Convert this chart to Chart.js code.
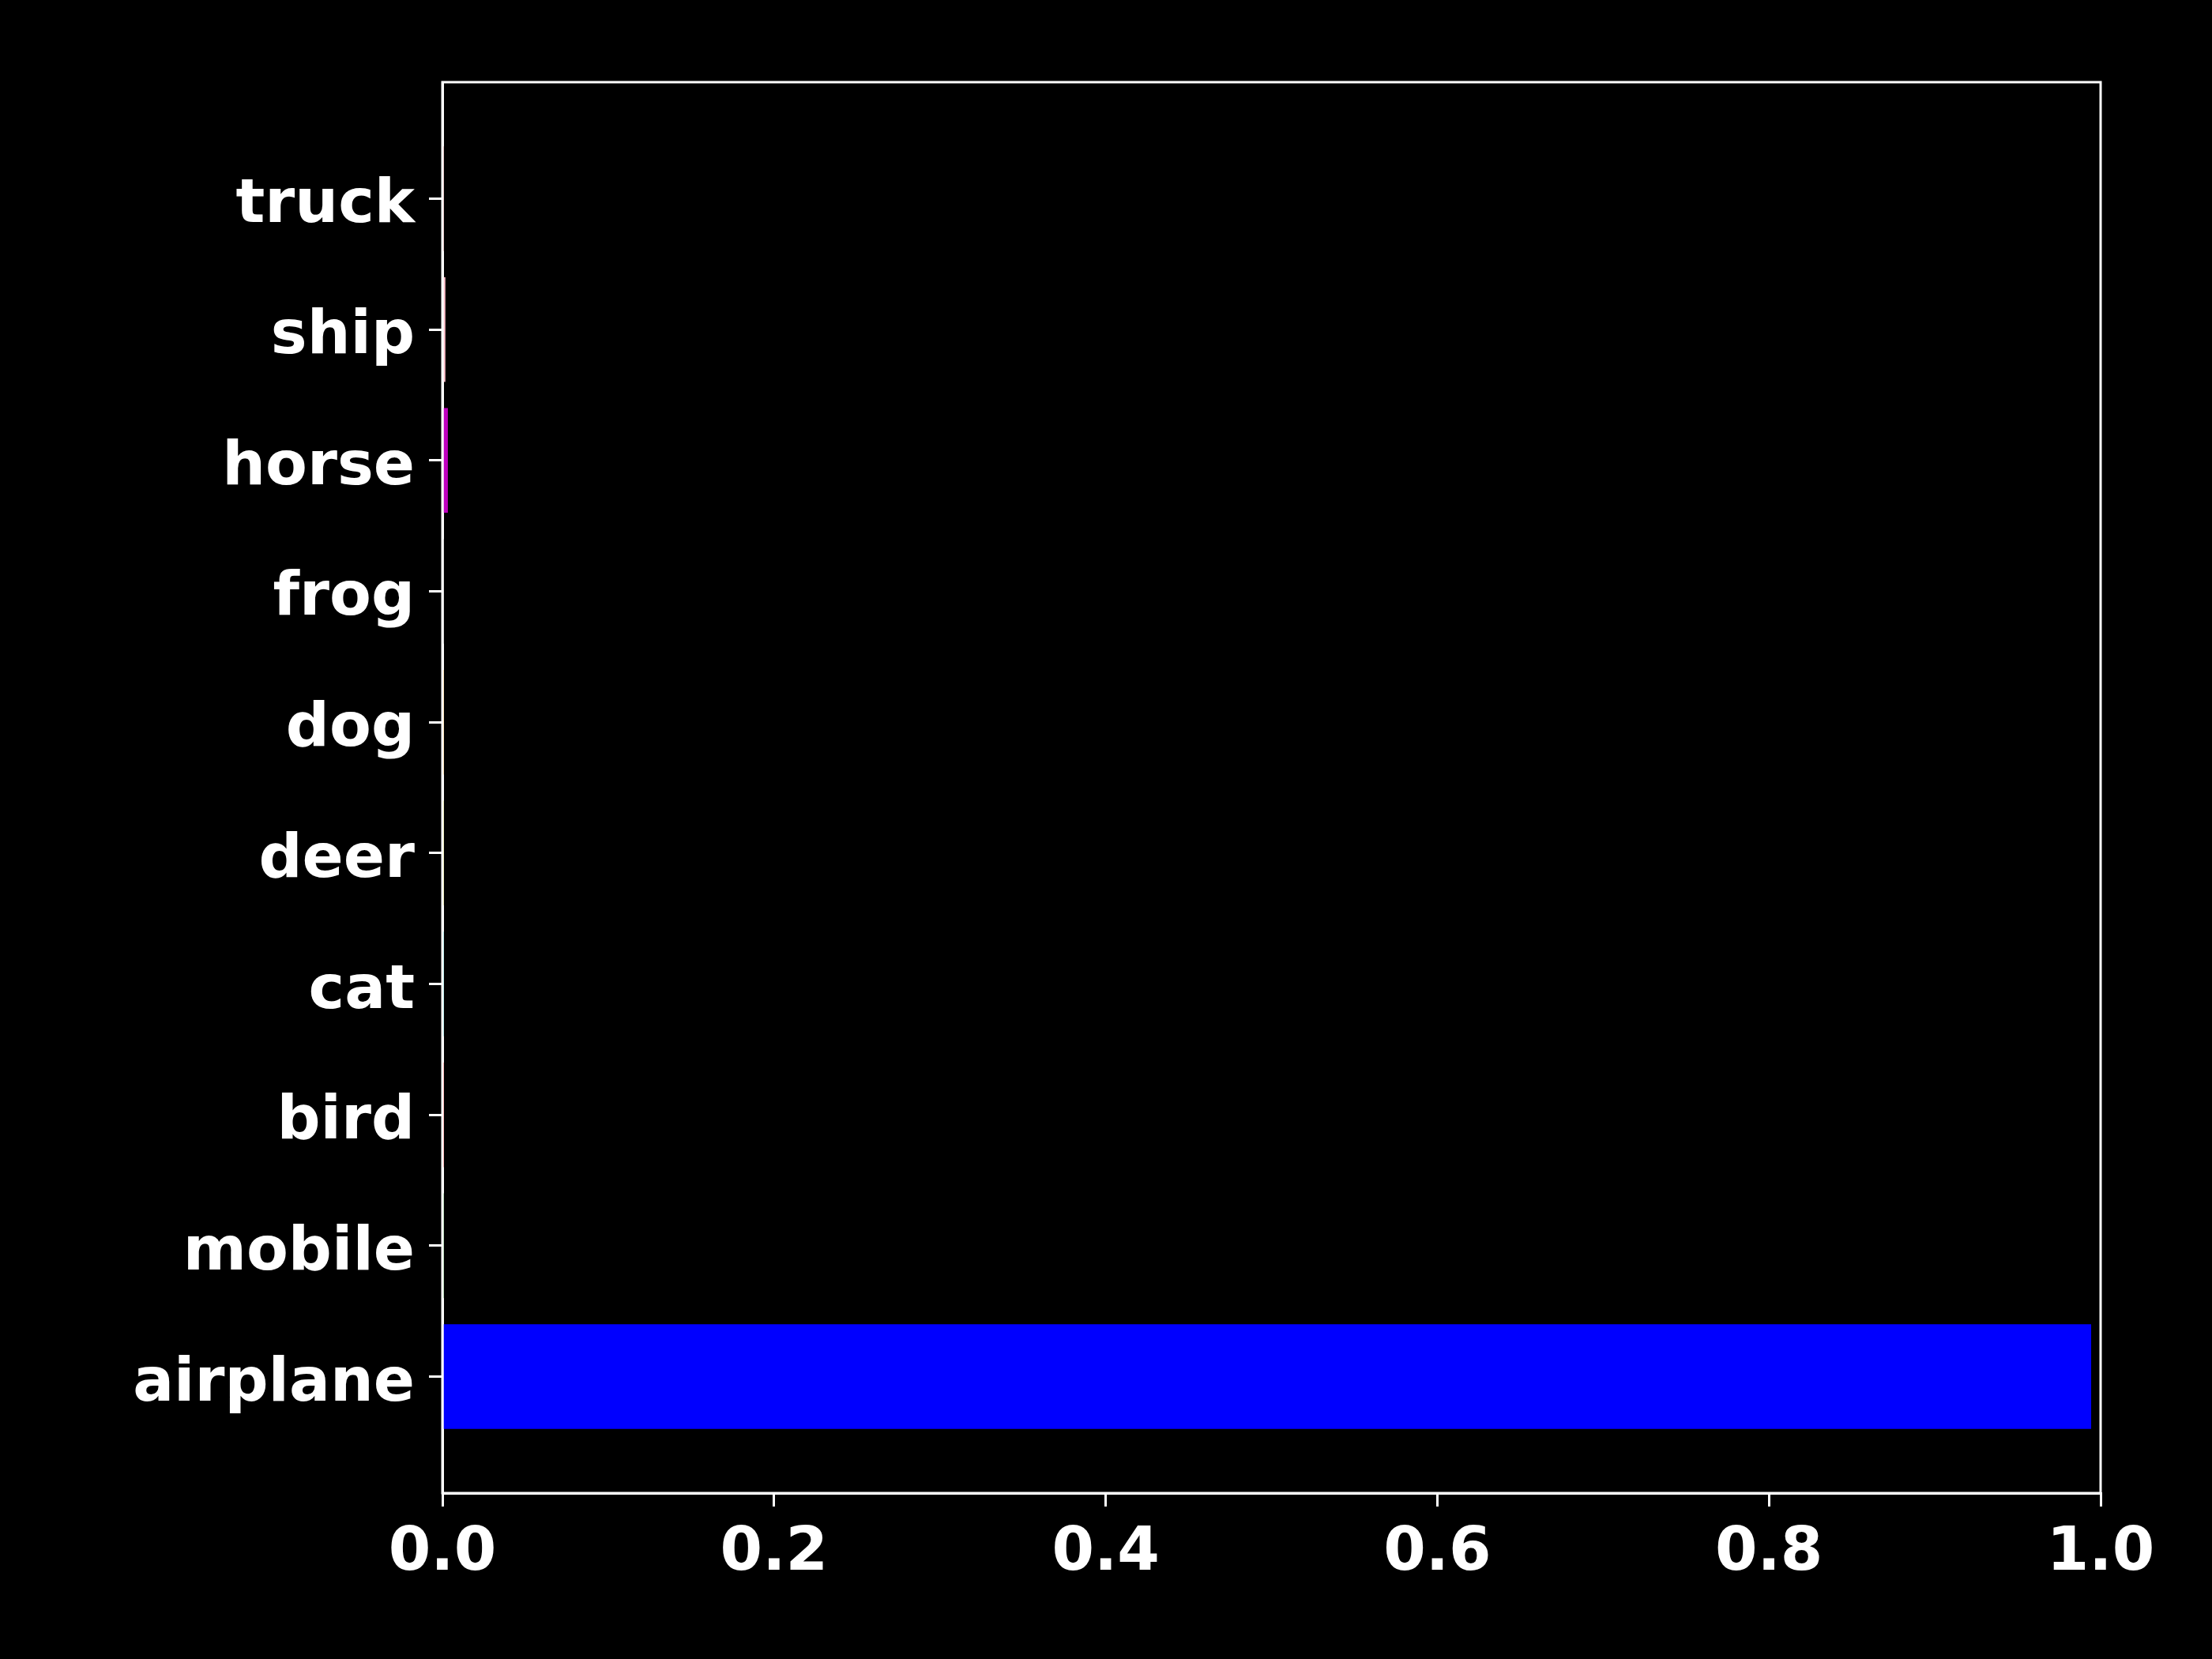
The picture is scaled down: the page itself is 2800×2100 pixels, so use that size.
<!DOCTYPE html>
<html>
<head>
<meta charset="utf-8">
<script src="https://cdn.jsdelivr.net/npm/chart.js@4/dist/chart.umd.min.js"></script>
<style>
    html, body { margin: 0; padding: 0; background: #000; }
    #wrap { width: 2800px; height: 2100px; position: relative; }
</style>
</head>
<body>
<div id="wrap"><canvas id="probs"></canvas></div>
<script>
const classLabels = ['airplane', 'mobile', 'bird', 'cat', 'deer', 'dog', 'frog', 'horse', 'ship', 'truck'];
const classProbs = [0.9943, 0.0001, 0.0001, 0.0001, 0.0001, 0.0001, 0.0001, 0.0033, 0.0018, 0.0001];
const barColors = ['#0000ff', '#008000', '#ff0000', '#00bfbf', '#bfbf00', '#ffa500', '#808080', '#bf00bf', '#ffc0cb', '#a52a2a'];
const xTicks = [0, 0.2, 0.4, 0.6, 0.8, 1.0];

const fontSpec = { family: 'DejaVu Sans', weight: 'bold', size: 77 };

// matplotlib-style box around the axes
const frameBox = {
    id: 'frameBox',
    beforeDraw(chart) {
        const ctx = chart.ctx;
        ctx.save();
        ctx.fillStyle = '#000';
        ctx.fillRect(0, 0, chart.width, chart.height);
        ctx.restore();
    },
    afterDraw(chart) {
        const a = chart.chartArea;
        const ctx = chart.ctx;
        ctx.save();
        ctx.strokeStyle = '#fff';
        ctx.lineWidth = 3;
        ctx.strokeRect(a.left, a.top, a.right - a.left, a.bottom - a.top);
        ctx.restore();
    }
};

const points = classProbs.map((p, i) => ({ x: p, y: i }));

new Chart(document.getElementById('probs'), {
    type: 'bar',
    data: {
        datasets: [{
            data: points,
            backgroundColor: barColors,
            borderWidth: 0,
            barPercentage: 0.8,
            categoryPercentage: 1.0
        }]
    },
    options: {
        indexAxis: 'y',
        responsive: true,
        maintainAspectRatio: false,
        animation: false,
        layout: { padding: { top: 104, right: 141, bottom: 0, left: 0 } },
        plugins: { legend: { display: false }, tooltip: { enabled: false } },
        scales: {
            x: {
                type: 'linear',
                min: 0,
                max: 1,
                afterBuildTicks: scale => { scale.ticks = xTicks.map(v => ({ value: v })); },
                afterFit: scale => { scale.height = 210; },
                ticks: {
                    color: '#fff',
                    font: fontSpec,
                    padding: 14,
                    maxRotation: 0,
                    callback: value => value.toFixed(1)
                },
                grid: { drawOnChartArea: false, drawTicks: true, tickLength: 17, color: '#fff', lineWidth: 3 },
                border: { display: true, color: '#fff', width: 3 }
            },
            y: {
                type: 'linear',
                min: -0.89,
                max: 9.89,
                offset: false,
                afterBuildTicks: scale => { scale.ticks = classLabels.map((_, i) => ({ value: i })); },
                afterFit: scale => { scale.width = 560; },
                ticks: {
                    color: '#fff',
                    font: { ...fontSpec, lineHeight: 0.26 },
                    padding: 18,
                    // empty first line nudges the label down onto matplotlib's baseline centring
                    callback: value => ['', classLabels[value]]
                },
                grid: { offset: false, drawOnChartArea: false, drawTicks: true, tickLength: 17, color: '#fff', lineWidth: 3 },
                border: { display: true, color: '#fff', width: 3 }
            }
        }
    },
    plugins: [frameBox]
});
</script>
</body>
</html>
